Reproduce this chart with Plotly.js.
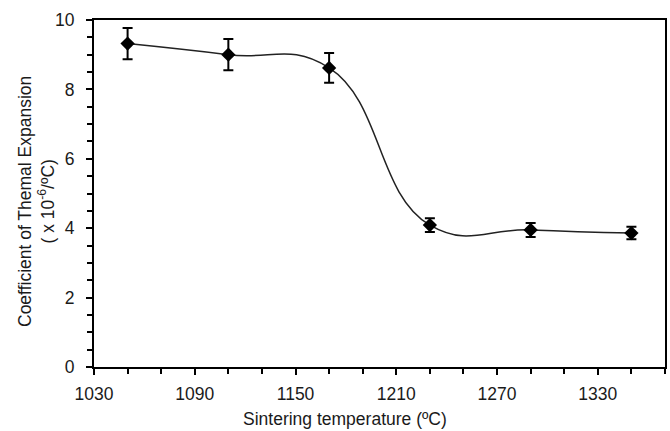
<!DOCTYPE html>
<html>
<head>
<meta charset="utf-8">
<script src="https://cdn.plot.ly/plotly-3.0.1.min.js"></script>
<style>html,body{margin:0;padding:0;background:#fff;}#chart{width:670px;height:431px;}</style>
</head>
<body>
<div id="chart"></div>
<script>
const temps = [1050, 1110, 1170, 1230, 1290, 1350];
const cte = [9.32, 9.0, 8.62, 4.09, 3.95, 3.86];
const cteErr = [0.45, 0.45, 0.43, 0.2, 0.2, 0.18];
const xTickVals = [1030, 1090, 1150, 1210, 1270, 1330];
const yTickVals = [0, 2, 4, 6, 8, 10];
const xTitle = 'Sintering temperature (ºC)';
const yTitle = 'Coefficient of Themal Expansion<br>( x 10<sup>-6</sup>/ºC)';

const fam = 'Liberation Sans, Arial, sans-serif';
const tickFont = {family: fam, size: 17.5, color: '#1a1a1a'};
const titleFont = {family: fam, size: 17.5, color: '#1a1a1a'};

const trace = {
  x: temps, y: cte, type: 'scatter', mode: 'lines+markers',
  line: {shape: 'spline', smoothing: 1.3, color: '#222', width: 1.5},
  marker: {symbol: 'diamond', size: 11, color: '#000'},
  error_y: {type: 'data', array: cteErr, visible: true, color: '#000', thickness: 2, width: 5},
  showlegend: false, hoverinfo: 'x+y'
};

const plotL = 94, plotR = 665, plotT = 20, plotB = 367;
const px2x = p => (p - plotL) / (plotR - plotL);
const px2y = p => (plotB - p) / (plotB - plotT);

const layout = {
  width: 670, height: 431,
  margin: {l: 94, r: 5, t: 20, b: 64},
  paper_bgcolor: '#fff', plot_bgcolor: '#fff',
  font: tickFont,
  xaxis: {
    range: [1030, 1370], tickvals: xTickVals, ticktext: xTickVals.map(String),
    showgrid: false, zeroline: false, showline: true, linecolor: '#000', linewidth: 2, mirror: true,
    ticks: 'outside', ticklen: 6, tickwidth: 2, tickcolor: '#000', ticklabelstandoff: 4,
    minor: {dtick: 20, tick0: 1030, ticks: 'outside', ticklen: 5, tickwidth: 2, tickcolor: '#000', showgrid: false},
    tickfont: tickFont
  },
  yaxis: {
    range: [0, 10], tickvals: yTickVals, ticktext: yTickVals.map(String),
    showgrid: false, zeroline: false, showline: true, linecolor: '#000', linewidth: 2, mirror: true,
    ticks: 'outside', ticklen: 6, tickwidth: 2, tickcolor: '#000', ticklabelstandoff: 8,
    minor: {dtick: 0.5, tick0: 0, ticks: 'outside', ticklen: 5, tickwidth: 2, tickcolor: '#000', showgrid: false},
    tickfont: tickFont
  },
  annotations: [
    {text: xTitle, xref: 'paper', yref: 'paper', x: px2x(345), y: px2y(419),
     xanchor: 'center', yanchor: 'middle', showarrow: false, font: titleFont},
    {text: yTitle, xref: 'paper', yref: 'paper', x: px2x(36), y: px2y(202), textangle: -90,
     xanchor: 'center', yanchor: 'middle', showarrow: false, font: titleFont}
  ]
};

Plotly.newPlot('chart', [trace], layout, {displayModeBar: false, staticPlot: true});
</script>
</body>
</html>
